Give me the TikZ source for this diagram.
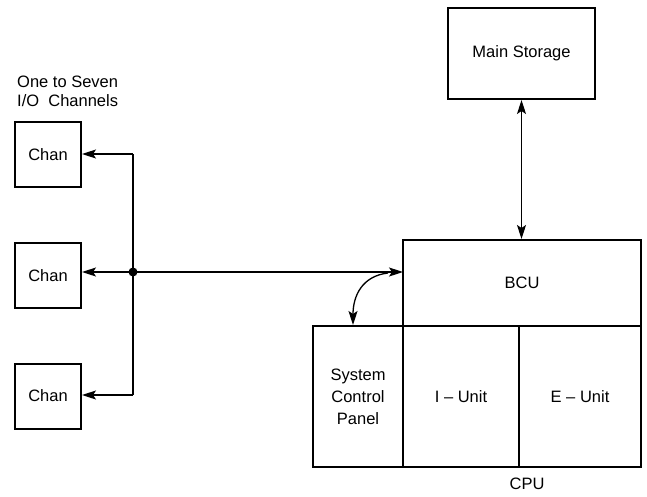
\documentclass[tikz,border=0pt]{standalone}
\usepackage{fontspec}
\setmainfont{Liberation Sans}
\usetikzlibrary{arrows.meta}
\begin{document}
\begin{tikzpicture}[x=1pt,y=-1pt,
  box/.style={draw,line width=2pt,inner sep=0pt,font=\fontsize{16.5}{22}\selectfont,align=center},
  conn/.style={line width=1.3pt,{Stealth[length=14pt,width=9pt,inset=3pt]}-{Stealth[length=14pt,width=9pt,inset=3pt]}},
  oneway/.style={line width=1.3pt,-{Stealth[length=14pt,width=9pt,inset=3pt]}},
  lbl/.style={font=\fontsize{16.5}{19}\selectfont,inner sep=0pt}]
\useasboundingbox (0,0) rectangle (647,496);
\node[box,minimum width=147pt,minimum height=91pt] (ms) at (521.5,53.5) {Main Storage};
\node[box,minimum width=238pt,minimum height=86pt] (bcu) at (522,283) {BCU};
\node[box,minimum width=90pt,minimum height=141pt] (scp) at (358,396.5) {System\\Control\\Panel};
\node[box,minimum width=116pt,minimum height=141pt] (iu) at (461,396.5) {I -- Unit};
\node[box,minimum width=122pt,minimum height=141pt] (eu) at (580,396.5) {E -- Unit};
\node[lbl] (cpu) at (527,484) {CPU};
\node[box,minimum width=66pt,minimum height=65pt] (c1) at (48,154.5) {Chan};
\node[box,minimum width=66pt,minimum height=65pt] (c2) at (48,275.5) {Chan};
\node[box,minimum width=66pt,minimum height=65pt] (c3) at (48,396) {Chan};
\node[lbl,anchor=north west,align=left] (title) at (17,76) {One to Seven\\I/O\ \ Channels};
\coordinate (j) at (133,272);
\coordinate (jt) at (133,154);
\coordinate (jb) at (133,395);
\coordinate (bl) at (403,272);
\coordinate (cs) at (388,273);
\fill (j) circle (4.5pt);
\draw[conn] (ms.south) -- (bcu.north -| ms.south);
\draw[conn] (c2.east |- j) -- (bl);
\draw[line width=1.3pt] (jt) -- (jb);
\draw[oneway] (jt) -- (c1.east |- jt);
\draw[oneway] (jb) -- (c3.east |- jb);
\draw[oneway] (cs) .. controls (362,276) and (353,296) .. (scp.north -| 353,0);
\end{tikzpicture}
\end{document}
